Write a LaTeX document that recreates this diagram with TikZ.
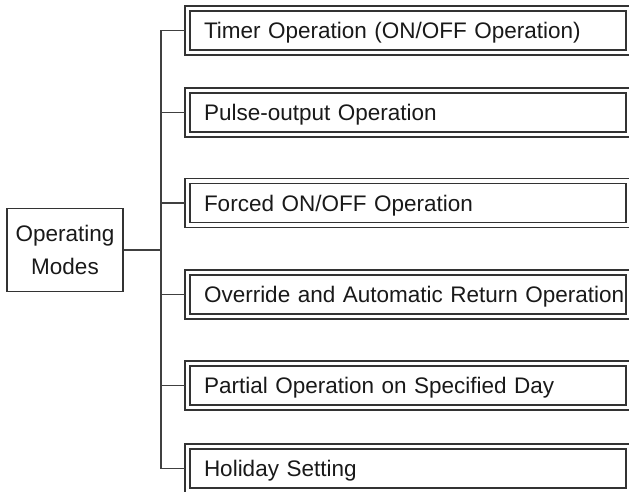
\documentclass[tikz,border=0pt]{standalone}
\usepackage{fontspec}
\setmainfont{Liberation Sans}
\usetikzlibrary{positioning}

\tikzset{
  modebox/.style={draw=black!80, double, double distance=3.8pt, line width=1.2pt, outer sep=2.5pt,
    minimum width=441pt, minimum height=44pt, text width=438pt, inner xsep=1.5pt, inner ysep=0pt,
    align=left, text height=16pt, text depth=0pt, text=black!90, font=\fontsize{22.5}{27}\selectfont,
    execute at begin node={\hspace*{15pt}}},
  rootbox/.style={draw=black!80, line width=1.2pt, minimum width=116pt, minimum height=83pt,
    align=center, text=black!90, font=\fontsize{22.5}{33}\selectfont},
  link/.style={draw=black!75, line width=1.2pt},
}

\begin{document}
\begin{tikzpicture}[x=1pt, y=1pt]
\useasboundingbox (0,0) rectangle (629,-491);

\node[rootbox] (modes) at (65,-250) {Operating\\Modes};

\node[modebox] (timer) at (408,-30.5) {Timer Operation (ON/OFF Operation)};
\node[modebox] (pulse) at (408,-112.5) {Pulse-output Operation};
\node[modebox] (forced) at (408,-203) {Forced ON/OFF Operation};
\node[modebox] (override) at (408,-294.5) {Override and Automatic Return Operation};
\node[modebox] (partial) at (408,-385.5) {Partial Operation on Specified Day};
\node[modebox] (holiday) at (408,-468.5) {Holiday Setting};

\coordinate (hub) at (161,-250);
\draw[link] (modes.east) -- (hub);
\draw[link] (timer.west) -| (hub) |- (holiday.west);
\draw[link] (hub |- pulse.west) -- (pulse.west);
\draw[link] (hub |- forced.west) -- (forced.west);
\draw[link] (hub |- override.west) -- (override.west);
\draw[link] (hub |- partial.west) -- (partial.west);

\end{tikzpicture}
\end{document}
